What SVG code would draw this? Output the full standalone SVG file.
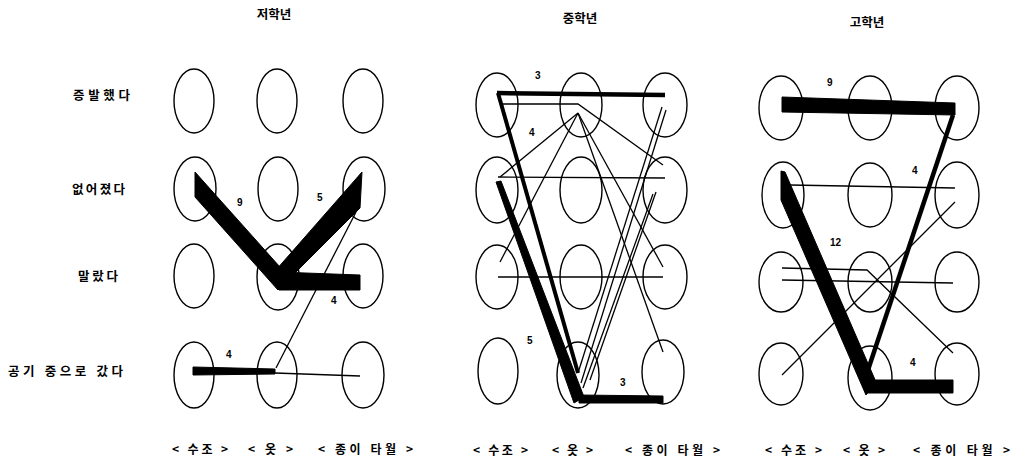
<svg xmlns="http://www.w3.org/2000/svg" width="1013" height="465" viewBox="0 0 1013 465">
<style>
.n{fill:none;stroke:#000;stroke-width:1.4}
.t{font-family:"Noto Sans CJK KR","Noto Sans",sans-serif;font-weight:700;fill:#000}
.ttl{font-size:12.5px}
.row{font-size:12.5px}
.col{font-size:12px}
.num{font-family:"Liberation Sans",sans-serif;font-size:10px;font-weight:700;fill:#000}
.thin{stroke:#000;stroke-width:1.3;fill:none}
.med{stroke:#000;stroke-width:4;fill:none}
.blk{fill:#000;stroke:#000;stroke-width:1}
</style>
<rect width="1013" height="465" fill="#fff"/>
<g id="titles">
<text class="t ttl" x="274" y="19" text-anchor="middle">저학년</text>
<text class="t ttl" x="580" y="23" text-anchor="middle">중학년</text>
<text class="t ttl" x="867" y="27" text-anchor="middle">고학년</text>
</g>
<g id="row-labels">
<text class="t row" x="73" y="100" textLength="57">증발했다</text>
<text class="t row" x="72" y="194" textLength="53">없어졌다</text>
<text class="t row" x="78" y="281" textLength="40">말랐다</text>
<text class="t row" x="8" y="376" textLength="115">공기 중으로 갔다</text>
</g>
<g id="col-labels">
<text class="t col" x="172" y="454" textLength="56">&lt; 수조 &gt;</text>
<text class="t col" x="248" y="454" textLength="45">&lt; 옷 &gt;</text>
<text class="t col" x="318" y="454" textLength="95">&lt; 종이 타월 &gt;</text>
<text class="t col" x="473" y="455" textLength="55">&lt; 수조 &gt;</text>
<text class="t col" x="552" y="455" textLength="41">&lt; 옷 &gt;</text>
<text class="t col" x="625" y="455" textLength="95">&lt; 종이 타월 &gt;</text>
<text class="t col" x="765" y="455" textLength="57">&lt; 수조 &gt;</text>
<text class="t col" x="843" y="455" textLength="42">&lt; 옷 &gt;</text>
<text class="t col" x="913" y="455" textLength="97">&lt; 종이 타월 &gt;</text>
</g>
<g id="panel1-nodes">
<g id="p1-r1c1"><ellipse class="n" cx="194" cy="101" rx="20" ry="32"/></g>
<g id="p1-r1c2"><ellipse class="n" cx="277" cy="101" rx="20" ry="32"/></g>
<g id="p1-r1c3"><ellipse class="n" cx="363" cy="101" rx="20" ry="32"/></g>
<g id="p1-r2c1"><ellipse class="n" cx="195" cy="189" rx="21" ry="32"/></g>
<g id="p1-r2c2"><ellipse class="n" cx="278" cy="189" rx="20" ry="32"/></g>
<g id="p1-r2c3"><ellipse class="n" cx="364" cy="189" rx="21" ry="32"/></g>
<g id="p1-r3c1"><ellipse class="n" cx="194" cy="276" rx="20" ry="32"/></g>
<g id="p1-r3c2"><ellipse class="n" cx="278" cy="277" rx="21" ry="33"/></g>
<g id="p1-r3c3"><ellipse class="n" cx="363" cy="276" rx="20" ry="32"/></g>
<g id="p1-r4c1"><ellipse class="n" cx="194" cy="375" rx="20" ry="33"/></g>
<g id="p1-r4c2"><ellipse class="n" cx="277" cy="375" rx="20" ry="33"/></g>
<g id="p1-r4c3"><ellipse class="n" cx="363" cy="375" rx="21" ry="33"/></g>
</g>
<g id="panel2-nodes">
<g id="p2-r1c1"><ellipse class="n" cx="497" cy="105" rx="21" ry="32"/></g>
<g id="p2-r1c2"><ellipse class="n" cx="581" cy="105" rx="21" ry="32"/></g>
<g id="p2-r1c3"><ellipse class="n" cx="665" cy="105" rx="22" ry="32"/></g>
<g id="p2-r2c1"><ellipse class="n" cx="497" cy="190" rx="21" ry="33"/></g>
<g id="p2-r2c2"><ellipse class="n" cx="581" cy="190" rx="21" ry="33"/></g>
<g id="p2-r2c3"><ellipse class="n" cx="665" cy="190" rx="22" ry="33"/></g>
<g id="p2-r3c1"><ellipse class="n" cx="497" cy="277" rx="21" ry="32"/></g>
<g id="p2-r3c2"><ellipse class="n" cx="581" cy="277" rx="21" ry="32"/></g>
<g id="p2-r3c3"><ellipse class="n" cx="665" cy="277" rx="22" ry="32"/></g>
<g id="p2-r4c1"><ellipse class="n" cx="498" cy="371" rx="20" ry="33"/></g>
<g id="p2-r4c2"><ellipse class="n" cx="578" cy="375" rx="21" ry="33"/></g>
<g id="p2-r4c3"><ellipse class="n" cx="663" cy="372" rx="21" ry="32"/></g>
</g>
<g id="panel3-nodes">
<g id="p3-r1c1"><ellipse class="n" cx="781" cy="108" rx="22" ry="32"/></g>
<g id="p3-r1c2"><ellipse class="n" cx="870" cy="108" rx="22" ry="32"/></g>
<g id="p3-r1c3"><ellipse class="n" cx="957" cy="108" rx="22" ry="32"/></g>
<g id="p3-r2c1"><ellipse class="n" cx="783" cy="195" rx="21" ry="33"/></g>
<g id="p3-r2c2"><ellipse class="n" cx="870" cy="195" rx="22" ry="32"/></g>
<g id="p3-r2c3"><ellipse class="n" cx="957" cy="195" rx="22" ry="33"/></g>
<g id="p3-r3c1"><ellipse class="n" cx="781" cy="282" rx="22" ry="30"/></g>
<g id="p3-r3c2"><ellipse class="n" cx="870" cy="282" rx="22" ry="30"/></g>
<g id="p3-r3c3"><ellipse class="n" cx="957" cy="282" rx="22" ry="30"/></g>
<g id="p3-r4c1"><ellipse class="n" cx="781" cy="374" rx="22" ry="31"/></g>
<g id="p3-r4c2"><ellipse class="n" cx="870" cy="378" rx="22" ry="32"/></g>
<g id="p3-r4c3"><ellipse class="n" cx="957" cy="374" rx="22" ry="31"/></g>
</g>
<g id="connectors">
<!-- panel 1 -->
<polygon class="blk" points="195,172 288,276 278,290 195,197"/>
<polygon class="blk" points="362,172 360,208 292,276 276,270"/>
<polygon class="blk" points="278,272 360,275 360,290 279,290"/>
<line class="thin" x1="356" y1="212" x2="276" y2="368"/>
<polygon class="blk" points="193,367 275,369 275,374 193,375"/>
<line class="thin" x1="275" y1="373" x2="360" y2="376"/>
<!-- panel 2 -->
<line x1="497" y1="93" x2="665" y2="95" stroke="#000" stroke-width="4.5"/>
<line class="med" x1="498" y1="93" x2="578" y2="373"/>
<polyline class="thin" points="502,104 578,104 663,165"/>
<line class="thin" x1="578" y1="113" x2="500" y2="177"/>
<line class="thin" x1="578" y1="113" x2="500" y2="262"/>
<line class="thin" x1="578" y1="113" x2="663" y2="267"/>
<line class="thin" x1="578" y1="113" x2="663" y2="352"/>
<line class="thin" x1="498" y1="177" x2="665" y2="178"/>
<line class="thin" x1="498" y1="277" x2="663" y2="277"/>
<line class="thin" x1="662" y1="107" x2="578" y2="373"/>
<line class="thin" x1="666" y1="110" x2="581" y2="383"/>
<line class="thin" x1="656" y1="192" x2="590" y2="380"/>
<line class="thin" x1="653" y1="194" x2="583" y2="388"/>
<polygon class="blk" points="496,182 501,181 584,397 574,403"/>
<polygon class="blk" points="579,395 663,396 663,403 579,403"/>
<!-- panel 3 -->
<polygon class="blk" points="782,97 955,103 955,115 782,112"/>
<line x1="953" y1="115" x2="868" y2="370" stroke="#000" stroke-width="4.5"/>
<polygon class="blk" points="781,171 785,172 876,382 866,395 781,200"/>
<polygon class="blk" points="866,380 953,380 953,393 866,393"/>
<line class="thin" x1="790" y1="185" x2="955" y2="188"/>
<line class="thin" x1="955" y1="202" x2="782" y2="375"/>
<polyline class="thin" points="782,268 867,270 953,353"/>
<line class="thin" x1="782" y1="280" x2="953" y2="283"/>
</g>
<g id="edge-labels">
<text class="num" x="237" y="206">9</text>
<text class="num" x="317" y="201">5</text>
<text class="num" x="331" y="304">4</text>
<text class="num" x="226" y="358">4</text>
<text class="num" x="535" y="79">3</text>
<text class="num" x="529" y="136">4</text>
<text class="num" x="527" y="344">5</text>
<text class="num" x="620" y="386">3</text>
<text class="num" x="827" y="86">9</text>
<text class="num" x="912" y="174">4</text>
<text class="num" x="830" y="246">12</text>
<text class="num" x="910" y="366">4</text>
</g>
</svg>
